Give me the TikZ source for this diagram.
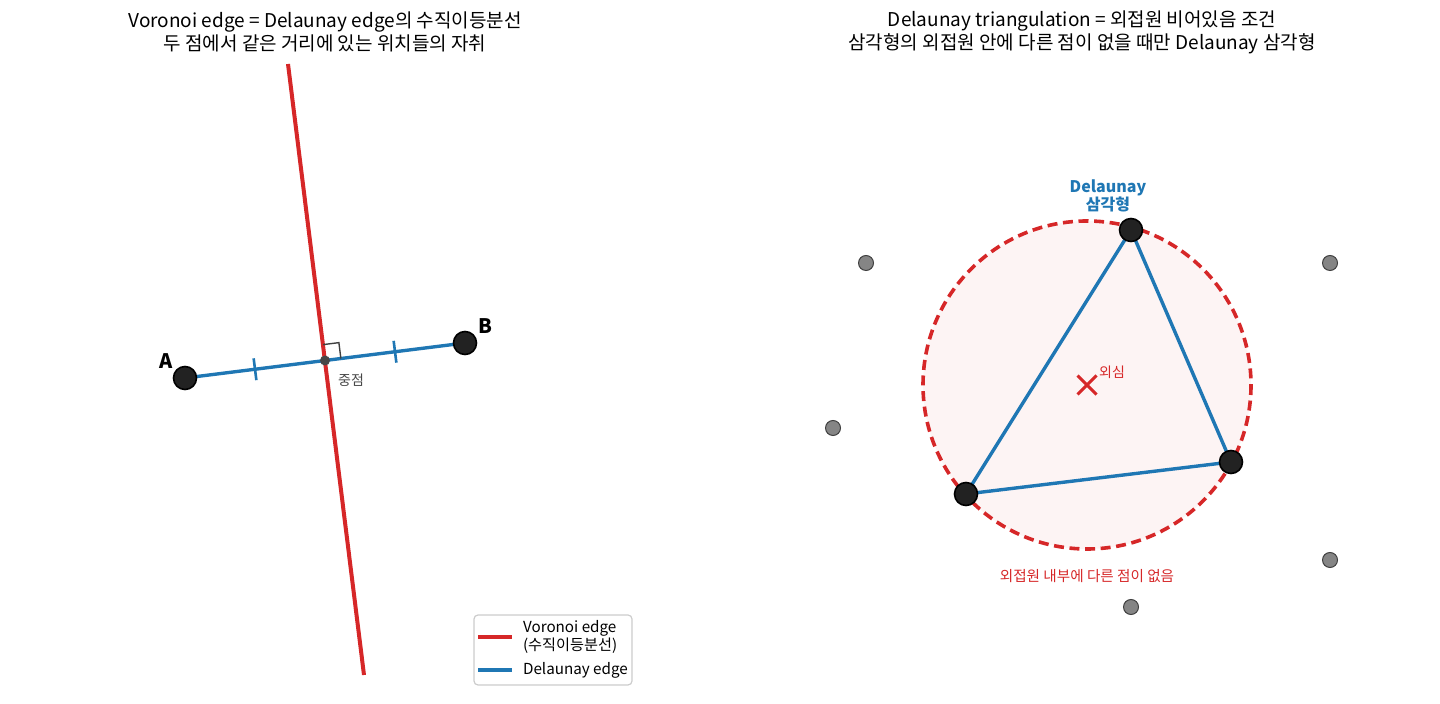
\documentclass[tikz,border=0pt]{standalone}
\usepackage{fontspec}
\setmainfont{Noto Sans CJK KR}
\usepackage{xcolor}
\usetikzlibrary{calc}
\usetikzlibrary{shapes.misc}
\usetikzlibrary{backgrounds}

\definecolor{vred}{HTML}{D62728}
\definecolor{dblue}{HTML}{1F77B4}
\definecolor{ptdark}{HTML}{222222}
\definecolor{circfill}{HTML}{FDF4F4}

\tikzset{
	site/.style={circle, draw=black, fill=ptdark, line width=0.8pt, minimum size=11.5pt, inner sep=0pt},
	farsite/.style={circle, draw=black!75, fill=black!48, line width=0.5pt, minimum size=7.5pt, inner sep=0pt},
	vedge/.style={vred, line width=2pt},
	dedge/.style={dblue, line width=1.7pt},
	titletext/.style={align=center, font=\fontsize{9.5}{11.5}\selectfont},
	smalltext/.style={font=\fontsize{7}{8.5}\selectfont},
	legendtext/.style={font=\fontsize{7.6}{9}\selectfont}
}

\begin{document}
\begin{tikzpicture}[x=0.5pt, y=-0.5pt]
		\useasboundingbox (0,0) rectangle (1440,704);

		% Left: perpendicular bisector
		\node[titletext] (ltitle) at (325, 32)
			{Voronoi edge = Delaunay edge의 수직이등분선\\두 점에서 같은 거리에 있는 위치들의 자취};

		\node[site] (A) at (185, 378) {};
		\node[site] (B) at (465, 343) {};
		\coordinate (vtop) at (288, 64);
		\coordinate (vbot) at (364, 675);
		\coordinate (M) at ($(A.center)!0.5!(B.center)$);

		\begin{scope}[on background layer]
			\draw[vedge] (vtop) -- (vbot);
			\draw[dedge] (A.center) -- (B.center);
		\end{scope}
		\foreach \t in {0.25, 0.75} {
			\coordinate (tk) at ($(A.center)!\t!(B.center)$);
			\draw[dblue, line width=1.3pt] ($(tk)!5.5pt!90:(B.center)$) -- ($(tk)!5.5pt!-90:(B.center)$);
		}
		% right angle mark
		\coordinate (ra1) at ($(M)!8pt!(B.center)$);
		\coordinate (ra3) at ($(M)!8pt!90:(B.center)$);
		\draw[black!75, line width=0.7pt] (ra1) -- ($(ra1)+(ra3)-(M)$) -- (ra3);
		\node[circle, fill=black!72, minimum size=5pt, inner sep=0pt] (mid) at (M) {};

		\node[font=\fontsize{10}{12}\selectfont\bfseries] (labA) at (166, 361) {A};
		\node[font=\fontsize{10}{12}\selectfont\bfseries] (labB) at (485, 326) {B};
		\node[smalltext, text=black!72] (labM) at (351, 380) {중점};

		% legend
		\draw[black!20, line width=0.6pt, rounded corners=2pt, fill=white] (474, 615) rectangle (632, 685);
		\draw[vedge] (478, 637) -- (512, 637);
		\node[legendtext, align=left, anchor=west] (legv) at (516, 637) {Voronoi edge\\(수직이등분선)};
		\draw[dedge] (478, 670) -- (512, 670);
		\node[legendtext, anchor=west] (legd) at (516, 670) {Delaunay edge};

		% Right: empty circumcircle
		\node[titletext] (rtitle) at (1082, 32)
			{Delaunay triangulation = 외접원 비어있음 조건\\삼각형의 외접원 안에 다른 점이 없을 때만 Delaunay 삼각형};

		\coordinate (O) at (1087, 385);
		\node[site] (P1) at (1131, 230) {};
		\node[site] (P2) at (1231, 462) {};
		\node[site] (P3) at (966, 494) {};
		\begin{scope}[on background layer]
			\fill[circfill] (O) circle[radius=164];
			\draw[vred, line width=1.8pt, dash pattern=on 5pt off 2.8pt] (O) circle[radius=164];
			\draw[dedge, line join=round] (P1.center) -- (P2.center) -- (P3.center) -- cycle;
		\end{scope}

		\node[cross out, draw=vred, line width=1.5pt, minimum size=8pt, inner sep=0pt] (cc) at (O) {};
		\node[smalltext, text=vred] (labO) at (1112, 372) {외심};

		\node[align=center, text=dblue, font=\fontsize{8}{9}\selectfont\bfseries] (labT) at (1108, 196)
			{Delaunay\\삼각형};
		\node[text=vred, font=\fontsize{7.3}{9}\selectfont] (labE) at (1087, 576)
			{외접원 내부에 다른 점이 없음};

		% other points outside
		\foreach \x/\y [count=\i] in {866/263, 1330/263, 833/428, 1330/560, 1131/607}
			\node[farsite] (Q\i) at (\x, \y) {};
	\end{tikzpicture}
\end{document}
